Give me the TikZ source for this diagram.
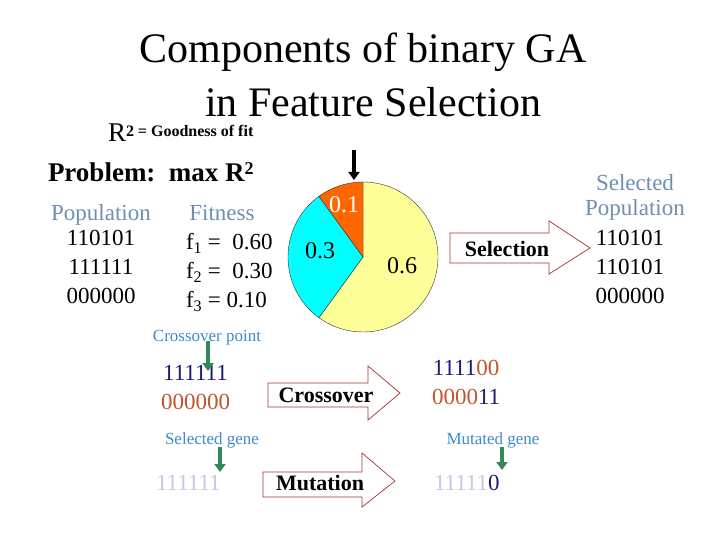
\documentclass[tikz,border=0pt]{standalone}
\usepackage{fontspec}
\setmainfont{Liberation Serif}
\usetikzlibrary{arrows.meta}
\definecolor{gblue}{HTML}{6E8FB2}
\definecolor{lblue}{HTML}{3F8ACD}
\definecolor{navy}{HTML}{1C1C78}
\definecolor{rorange}{HTML}{C05530}
\definecolor{lav}{HTML}{C8C8E4}
\definecolor{pyellow}{HTML}{FFFF99}
\definecolor{porange}{HTML}{FF6600}
\definecolor{pcyan}{HTML}{00FFFF}
\definecolor{ggreen}{HTML}{2E8B57}
\begin{document}
\begin{tikzpicture}[x=1pt,y=-1pt,
  every node/.style={inner sep=0pt,outer sep=0pt},
  blk/.style={draw=black!80,line width=0.4pt},
  barrow/.style={draw=red!55!black!80,fill=white,line width=0.7pt,line join=miter},
  garrow/.style={draw=ggreen,line width=3.5pt,-{Triangle[length=8pt,width=11pt]}},
  karrow/.style={draw=black,line width=3.5pt,-{Triangle[length=8pt,width=11pt]}},
  hdr/.style={text=gblue,font=\fontsize{23}{25}\selectfont},
  num/.style={font=\fontsize{23}{29}\selectfont,align=center},
  lbl/.style={text=lblue,font=\fontsize{17}{19}\selectfont}]
\useasboundingbox (0,0) rectangle (720,540);
\fill[white] (0,0) rectangle (720,540);
% title
\node (t1) at (363,52) {\fontsize{42}{44}\selectfont Components of binary GA};
\node (t2) at (373,102) {\fontsize{42}{44}\selectfont in Feature Selection};
\node[anchor=west] (r2) at (108,133) {\fontsize{27}{29}\selectfont R\raisebox{5pt}{\fontsize{16}{17}\selectfont\bfseries 2 = Goodness of fit}};
\node[anchor=west] (prob) at (48,172) {\fontsize{27}{29}\selectfont\bfseries Problem:\ \ max R\raisebox{7pt}{\fontsize{18}{18}\selectfont 2}};
% population
\node[hdr] (pop) at (101,215) {Population};
\node[num,anchor=north] (popn) at (101,230) {110101\\111111\\000000};
\node[hdr] (fit) at (222,213) {Fitness};
\node[num,anchor=north west] (fitn) at (186,229) {\begin{tabular}{@{}l@{}}f\textsubscript{1} =\ \ 0.60\\ f\textsubscript{2} =\ \ 0.30\\ f\textsubscript{3} = 0.10\end{tabular}};
% pie
\begin{scope}[shift={(363,257)},x=1pt,y=1pt]
\filldraw[fill=pyellow,blk] (0,0) -- (90:75) arc[start angle=90,end angle=-126,radius=75] -- cycle;
\filldraw[fill=pcyan,blk] (0,0) -- (234:75) arc[start angle=234,end angle=126,radius=75] -- cycle;
\filldraw[fill=porange,blk] (0,0) -- (126:75) arc[start angle=126,end angle=90,radius=75] -- cycle;
\end{scope}
\node[text=white,font=\fontsize{24}{26}\selectfont] (p1) at (344,205) {0.1};
\node[font=\fontsize{24}{26}\selectfont] (p3) at (320,251) {0.3};
\node[font=\fontsize{24}{26}\selectfont] (p6) at (402,266) {0.6};
\coordinate (ka) at (354,150);
\coordinate (kb) at (354,180);
\draw[karrow] (ka) -- (kb);
% selection arrow
\draw[barrow] (450,233) -- (549,233) -- (549,221) -- (590,248) -- (549,274) -- (549,263) -- (450,263) -- cycle;
\node[font=\fontsize{22}{24}\selectfont\bfseries] (sel) at (507,249) {Selection};
\node[hdr,align=center] (spop) at (635,197) {Selected\\Population};
\node[num,anchor=north] (spopn) at (630,230) {110101\\110101\\000000};
% crossover
\node[lbl] (cp) at (207,338) {Crossover point};
\node[num,anchor=north west] (c1) at (161,365) {\textcolor{navy}{111111}\\\textcolor{rorange}{000000}};
\coordinate (ca) at (208,341);
\coordinate (cb) at (208,371);
\draw[garrow] (ca) -- (cb);
\draw[barrow] (268,383) -- (368,383) -- (368,366) -- (400,393) -- (368,420) -- (368,407) -- (268,407) -- cycle;
\node[font=\fontsize{22}{24}\selectfont\bfseries] (cx) at (326,395) {Crossover};
\node[num,anchor=north west] (c2) at (432,360) {\textcolor{navy}{1111}\textcolor{rorange}{00}\\\textcolor{rorange}{0000}\textcolor{navy}{11}};
% mutation
\node[lbl] (sg) at (212,440) {Selected gene};
\coordinate (sa) at (220,447);
\coordinate (sb) at (220,472);
\draw[garrow] (sa) -- (sb);
\node[num,text=lav,anchor=west] (m1) at (156,483) {111111};
\draw[barrow] (263,472) -- (362,472) -- (362,453) -- (395,481) -- (362,507) -- (362,497) -- (263,497) -- cycle;
\node[font=\fontsize{22}{24}\selectfont\bfseries] (mt) at (320,483) {Mutation};
\node[lbl] (mg) at (493,440) {Mutated gene};
\coordinate (ma) at (502,447);
\coordinate (mb) at (502,470);
\draw[garrow] (ma) -- (mb);
\node[num,anchor=west] (m2) at (434,483) {\textcolor{lav}{11111}\textcolor{navy}{0}};
\end{tikzpicture}
\end{document}
